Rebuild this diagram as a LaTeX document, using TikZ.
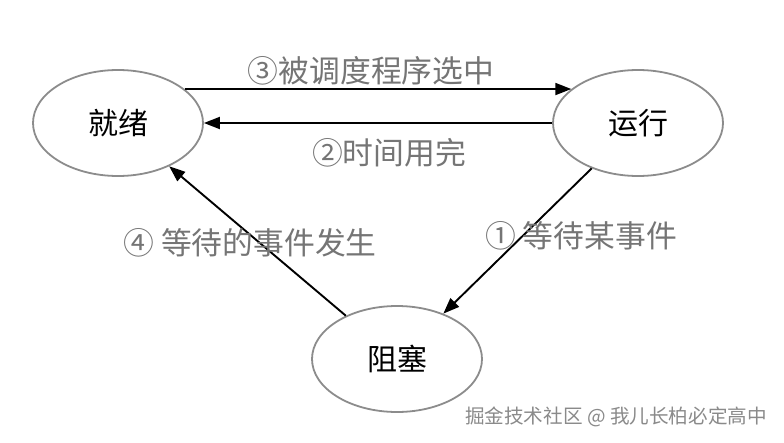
\documentclass[tikz,border=0pt]{standalone}
\usepackage{fontspec}
\setmainfont{Noto Sans CJK SC}
\usetikzlibrary{shapes.geometric,arrows.meta}
\definecolor{labgray}{HTML}{757575}
\definecolor{edgegray}{HTML}{8C8C8C}
\definecolor{wmgray}{HTML}{8A8A8A}
\begin{document}
\begin{tikzpicture}[x=1pt,y=-1pt,
  state/.style={ellipse,draw=edgegray,line width=1.8pt,minimum width=170pt,minimum height=106pt,inner sep=0pt,font=\fontsize{30}{32}\selectfont,text=black},
  trans/.style={draw=black,line width=1.9pt,-{Triangle[length=16pt,width=12pt]}},
  lab/.style={text=labgray,font=\fontsize{30.8}{33}\selectfont,inner sep=0pt},
  wm/.style={text=wmgray,font=\fontsize{19.6}{22}\selectfont,inner sep=0pt}]
\useasboundingbox (0,0) rectangle (784,442);
\fill[white] (0,0) rectangle (784,442);
\node[state] (jx) at (118,123) {就绪};
\node[state] (yx) at (638,123) {运行};
\node[state] (zs) at (397,359) {阻塞};
\draw[trans] (jx.27) -- (yx.153);
\draw[trans] (yx.west) -- (jx.east);
\draw[trans] (yx) -- (zs);
\draw[trans] (zs) -- (jx);
\node[lab] (l3) at (371,71) {③被调度程序选中};
\node[lab] (l2) at (389,153) {②时间用完};
\node[lab] (l4) at (250,243) {④ 等待的事件发生};
\node[lab] (l1) at (581,236) {① 等待某事件};
\node[wm] (w) at (616,417) {掘金技术社区 @ 我儿长柏必定高中};
\end{tikzpicture}
\end{document}
